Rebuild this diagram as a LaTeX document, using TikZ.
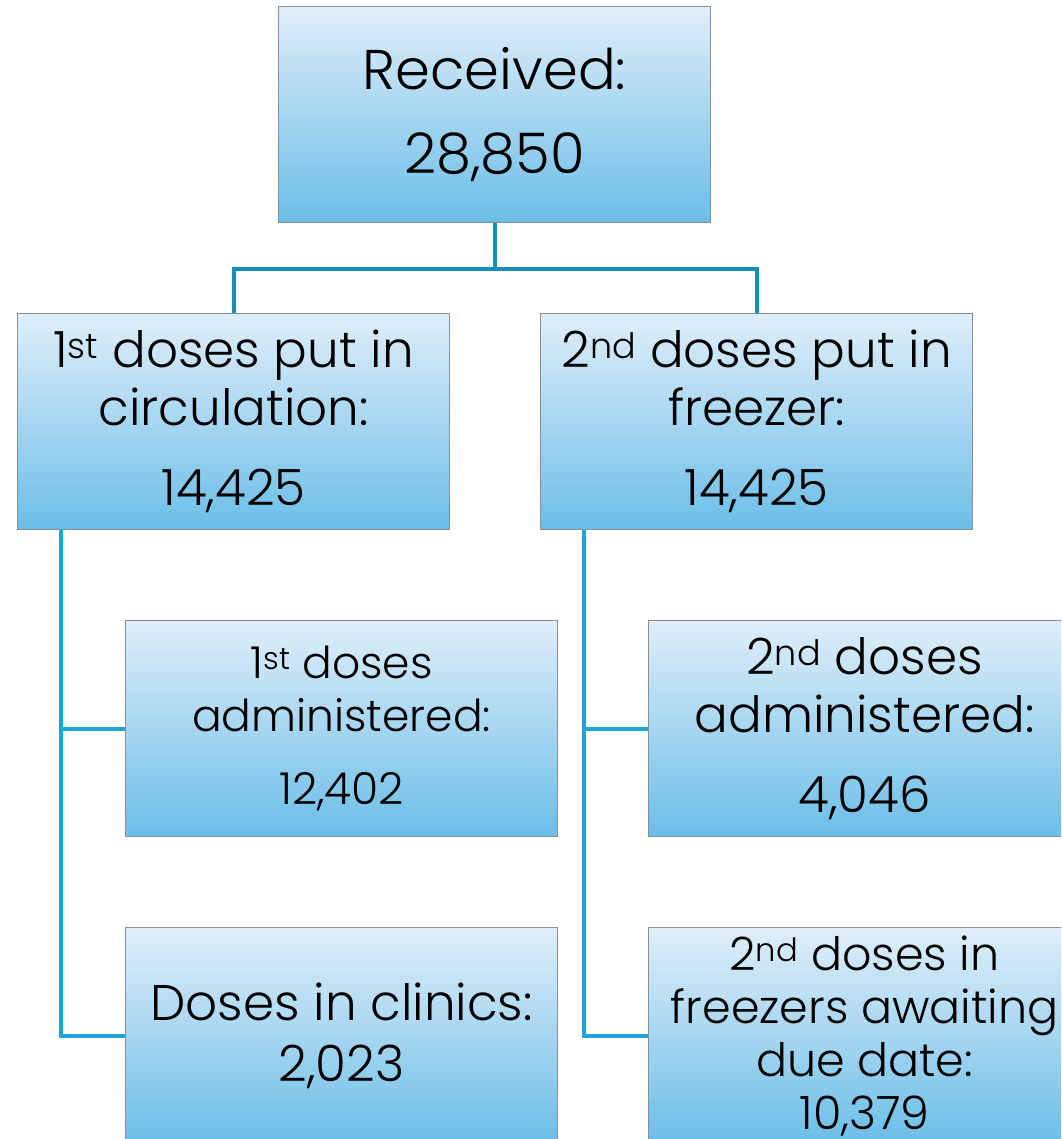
\documentclass[tikz,border=0pt]{standalone}
\usepackage{fontspec}
\setmainfont{Poppins Light}
\definecolor{boxtop}{HTML}{E0EEF9}
\definecolor{boxbot}{HTML}{6BBEE8}
\definecolor{boxline}{HTML}{8A8F94}
\definecolor{linkup}{HTML}{1A8CB8}
\definecolor{linkdn}{HTML}{1FA3D8}
\newcommand{\fs}[2]{\fontsize{#1}{#2}\selectfont}

\begin{document}
\begin{tikzpicture}[x=1pt,y=-1pt,
  box/.style={draw=boxline,line width=1.2pt,top color=boxtop,bottom color=boxbot,
    minimum width=432pt,minimum height=216pt,inner sep=0pt,align=center,anchor=north west},
  upline/.style={draw=linkup,line width=4pt},
  dnline/.style={draw=linkdn,line width=4pt}]
\useasboundingbox (0,0) rectangle (1061,1139);
\clip (0,0) rectangle (1061,1139);
% boxes
\node[box,font=\fs{56}{84}] (rec) at (278,6) {Received:\\28,850};
\node[box,font=\fs{50}{58}] (first) at (17,313) {1\textsuperscript{st} doses put in\\circulation:\\[22pt]14,425};
\node[box,font=\fs{50}{58}] (second) at (540,313) {2\textsuperscript{nd} doses put in\\freezer:\\[22pt]14,425};
\node[box,font=\fs{44}{53}] (adm1) at (125,620) {1\textsuperscript{st} doses\\administered:\\[20pt]12,402};
\node[box,font=\fs{50}{61}] (clin) at (125,927) {Doses in clinics:\\2,023};
\node[box,font=\fs{50}{58}] (adm2) at (648,620) {2\textsuperscript{nd} doses\\administered:\\[22pt]4,046};
\node[box,font=\fs{46}{53}] (frz) at (648,927) {2\textsuperscript{nd} doses in\\freezers awaiting\\due date:\\10,379};
% connectors
\draw[upline] (rec.south) -- ++(0,46) -| (first.north);
\draw[upline] (rec.south) -- ++(0,46) -| (second.north);
\draw[dnline] ([xshift=44pt]first.south west) |- (adm1.west);
\draw[dnline] ([xshift=44pt]first.south west) |- (clin.west);
\draw[dnline] ([xshift=44pt]second.south west) |- (adm2.west);
\draw[dnline] ([xshift=44pt]second.south west) |- (frz.west);
\end{tikzpicture}
\end{document}
